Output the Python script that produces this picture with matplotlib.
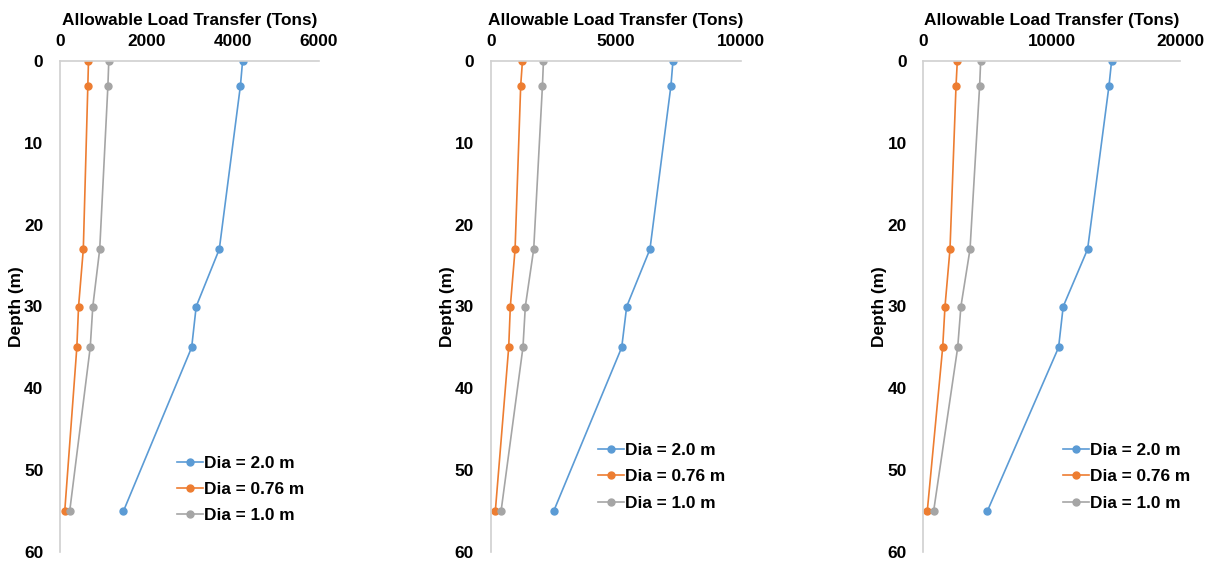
import matplotlib.pyplot as plt

plt.rcParams['font.family'] = ['Liberation Sans', 'DejaVu Sans']
plt.rcParams['font.weight'] = 'bold'

depth = [0, 3, 23, 30, 35, 55]

# panel 1
p1_dia20 = [4230, 4180, 3690, 3155, 3050, 1470]
p1_dia076 = [660, 645, 540, 430, 390, 110]
p1_dia10 = [1130, 1110, 920, 760, 700, 225]

# panel 2
p2_dia20 = [7290, 7210, 6370, 5440, 5240, 2520]
p2_dia076 = [1270, 1200, 975, 785, 720, 185]
p2_dia10 = [2110, 2070, 1720, 1385, 1290, 415]

# panel 3
p3_dia20 = [14670, 14470, 12800, 10900, 10540, 4990]
p3_dia076 = [2650, 2550, 2080, 1690, 1510, 310]
p3_dia10 = [4470, 4390, 3640, 2930, 2680, 805]

labels = ['Dia = 2.0 m', 'Dia = 0.76 m', 'Dia = 1.0 m']
colors = ['#5B9BD5', '#ED7D31', '#A5A5A5']

panels = [
    ([p1_dia20, p1_dia076, p1_dia10], 6000, [0, 2000, 4000, 6000]),
    ([p2_dia20, p2_dia076, p2_dia10], 10000, [0, 5000, 10000]),
    ([p3_dia20, p3_dia076, p3_dia10], 20000, [0, 10000, 20000]),
]

W, H = 1209, 561
boxes = [(60, 319), (490.7, 740.7), (923.3, 1180)]
top, bot = 61, 552
legend_pos = [(0.452, 0.196), (0.429, 0.222), (0.544, 0.222)]
fs = 12.4

fig = plt.figure(figsize=(W / 100, H / 100), dpi=100)

for i, (series, xmax, xticks) in enumerate(panels):
    x0, x1 = boxes[i]
    ax = fig.add_axes([x0 / W, 1 - bot / H, (x1 - x0) / W, (bot - top) / H])
    for s, lab, c in zip(series, labels, colors):
        ax.plot(s, depth, color=c, marker='o', markersize=5, linewidth=1.2, label=lab)
    ax.set_xlim(0, xmax)
    ax.set_ylim(60, 0)
    ax.set_xticks(xticks)
    ax.set_yticks([0, 10, 20, 30, 40, 50, 60])
    ax.xaxis.tick_top()
    ax.xaxis.set_label_position('top')
    ax.set_xlabel('Allowable Load Transfer (Tons)', fontsize=fs, fontweight='bold', labelpad=6)
    ax.set_ylabel('Depth (m)', fontsize=fs, fontweight='bold', labelpad=0)
    ax.tick_params(axis='x', length=0, labelsize=fs, pad=9)
    ax.tick_params(axis='y', length=0, labelsize=fs, pad=12)
    for sp in ['bottom', 'right']:
        ax.spines[sp].set_visible(False)
    for sp in ['top', 'left']:
        ax.spines[sp].set_color('#D0D0D0')
        ax.spines[sp].set_linewidth(1.2)
    ax.legend(loc='upper left', bbox_to_anchor=legend_pos[i], frameon=False,
              fontsize=fs, handlelength=1.5, handletextpad=0.05, labelspacing=0.65,
              borderaxespad=0, borderpad=0)

fig.savefig('out.png', dpi=100)
